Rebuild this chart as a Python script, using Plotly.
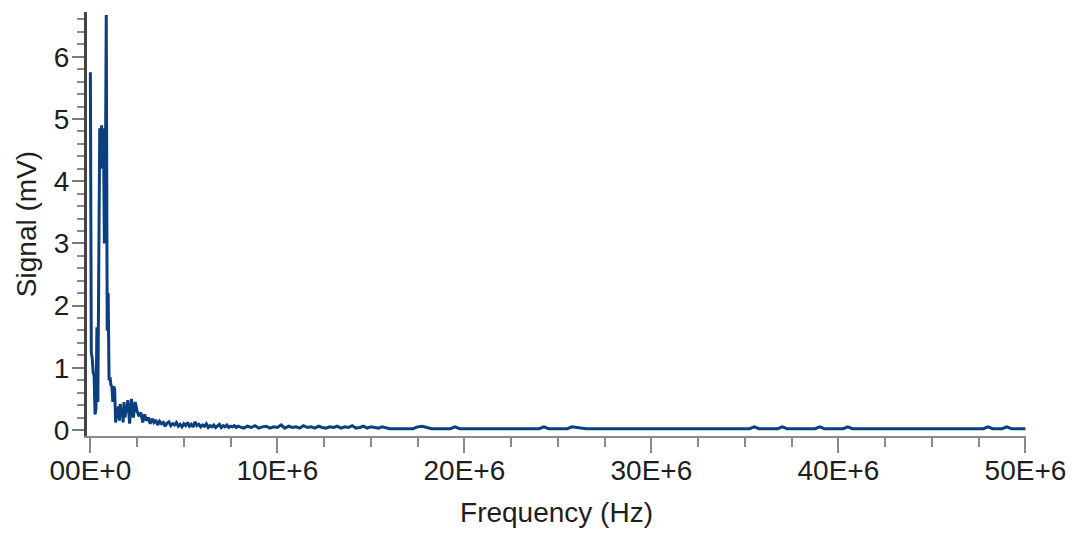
import numpy as np
import plotly.graph_objects as go

# Spectrum read in four blocks of uniform frequency bins (start MHz, step MHz)
seg1_start, seg1_step = 0.0, 0.05
seg1_mv = [5.75, 1.25, 1.15, 0.92, 0.88, 0.25, 0.35, 1.65, 0.45, 2.4,
           4.85, 4.3, 4.9, 4.2, 4.85, 3.0, 3.9, 6.67, 1.6, 2.2,
           0.8, 0.85, 0.72, 0.7, 0.45, 0.7, 0.65, 0.12, 0.3, 0.2,
           0.38, 0.15, 0.42, 0.25, 0.35, 0.12, 0.45, 0.2, 0.35, 0.28]

seg2_start, seg2_step = 2.0, 0.1
seg2_mv = [0.48, 0.1, 0.5, 0.2, 0.45, 0.3, 0.22, 0.28, 0.12, 0.25,
           0.15, 0.2, 0.1, 0.18, 0.12, 0.16, 0.08, 0.14, 0.1, 0.12,
           0.06, 0.11, 0.13, 0.07, 0.1, 0.08, 0.12, 0.06, 0.09, 0.05,
           0.1, 0.07, 0.12, 0.06, 0.09, 0.05, 0.13, 0.07, 0.09, 0.05,
           0.08, 0.06, 0.1, 0.04, 0.07, 0.05, 0.08, 0.04, 0.06, 0.09,
           0.04, 0.07, 0.05, 0.08, 0.04, 0.06, 0.05, 0.07, 0.04, 0.06]

seg3_start, seg3_step = 8.0, 0.2
seg3_mv = [0.05, 0.03, 0.06, 0.04, 0.07, 0.03, 0.05, 0.06, 0.03, 0.05,
           0.04, 0.08, 0.03, 0.06, 0.04, 0.05, 0.03, 0.07, 0.04, 0.05,
           0.03, 0.06, 0.04, 0.03, 0.05, 0.04, 0.06, 0.03, 0.05, 0.04,
           0.07, 0.03, 0.04, 0.06, 0.03, 0.05, 0.04, 0.03, 0.05, 0.03]

seg4_start, seg4_step = 16.0, 0.25
seg4_mv = [0.02, 0.02, 0.02, 0.02, 0.02, 0.02, 0.05, 0.06, 0.04, 0.02,
           0.02, 0.02, 0.02, 0.02, 0.05, 0.02, 0.02, 0.02, 0.02, 0.02,
           0.02, 0.02, 0.02, 0.02, 0.02, 0.02, 0.02, 0.02, 0.02, 0.02,
           0.02, 0.02, 0.02, 0.05, 0.02, 0.02, 0.02, 0.02, 0.02, 0.05,
           0.04, 0.02, 0.02, 0.02, 0.02, 0.02, 0.02, 0.02, 0.02, 0.02,
           0.02, 0.02, 0.02, 0.02, 0.02, 0.02, 0.02, 0.02, 0.02, 0.02,
           0.02, 0.02, 0.02, 0.02, 0.02, 0.02, 0.02, 0.02, 0.02, 0.02,
           0.02, 0.02, 0.02, 0.02, 0.02, 0.02, 0.02, 0.02, 0.05, 0.02,
           0.02, 0.02, 0.02, 0.02, 0.05, 0.02, 0.02, 0.02, 0.02, 0.02,
           0.02, 0.02, 0.05, 0.02, 0.02, 0.02, 0.02, 0.02, 0.05, 0.02,
           0.02, 0.02, 0.02, 0.02, 0.02, 0.02, 0.02, 0.02, 0.02, 0.02,
           0.02, 0.02, 0.02, 0.02, 0.02, 0.02, 0.02, 0.02, 0.02, 0.02,
           0.02, 0.02, 0.02, 0.02, 0.02, 0.02, 0.02, 0.02, 0.05, 0.02,
           0.02, 0.02, 0.05, 0.02, 0.02, 0.02, 0.02]

x_tickvals = [0, 10e6, 20e6, 30e6, 40e6, 50e6]
x_ticktext = ["00E+0", "10E+6", "20E+6", "30E+6", "40E+6", "50E+6"]
y_tickvals = [0, 1, 2, 3, 4, 5, 6]

freq_hz = []
signal = []
for start, step, vals in [(seg1_start, seg1_step, seg1_mv),
                          (seg2_start, seg2_step, seg2_mv),
                          (seg3_start, seg3_step, seg3_mv),
                          (seg4_start, seg4_step, seg4_mv)]:
    f = (start + step * np.arange(len(vals))) * 1e6
    freq_hz.extend(f.tolist())
    signal.extend(vals)

LINE = "#0b3f80"
TEXT = "#1e1e1e"
FONT = "Liberation Sans, Arial, sans-serif"

fig = go.Figure()
fig.add_trace(go.Scatter(x=freq_hz, y=signal, mode="lines",
                         line=dict(color=LINE, width=3), hoverinfo="skip"))

fig.update_layout(
    width=1074, height=533,
    margin=dict(l=87, r=48, t=12, b=97),
    paper_bgcolor="white", plot_bgcolor="white",
    showlegend=False,
    font=dict(family=FONT, size=28, color=TEXT),
)
fig.update_xaxes(
    range=[-0.18e6, 50.03e6], automargin=False,
    tickmode="array", tickvals=x_tickvals, ticktext=x_ticktext,
    ticks="outside", ticklen=15, tickwidth=2, tickcolor="#8a8a8a",
    minor=dict(dtick=2.5e6, ticks="outside", ticklen=9, tickwidth=2, tickcolor="#8a8a8a"),
    showline=True, linecolor="#8a8a8a", linewidth=2,
    showgrid=False, zeroline=False,
    tickfont=dict(size=28, color=TEXT), ticklabelstandoff=-7,
    title=dict(text="Frequency (Hz)", font=dict(size=28, color=TEXT), standoff=18),
)
fig.update_yaxes(
    range=[-0.097, 6.72], automargin=False,
    tickmode="array", tickvals=y_tickvals,
    ticks="outside", ticklen=12, tickwidth=2, tickcolor="#7a7a7a",
    minor=dict(dtick=0.2, tick0=0, ticks="outside", ticklen=7, tickwidth=2, tickcolor="#8a8a8a"),
    showline=True, linecolor="#444444", linewidth=3,
    showgrid=False, zeroline=False,
    tickfont=dict(size=28, color=TEXT), ticklabelstandoff=-3,
    title=dict(text="Signal (mV)", font=dict(size=28, color=TEXT), standoff=10),
)

fig.write_html("out.html")
